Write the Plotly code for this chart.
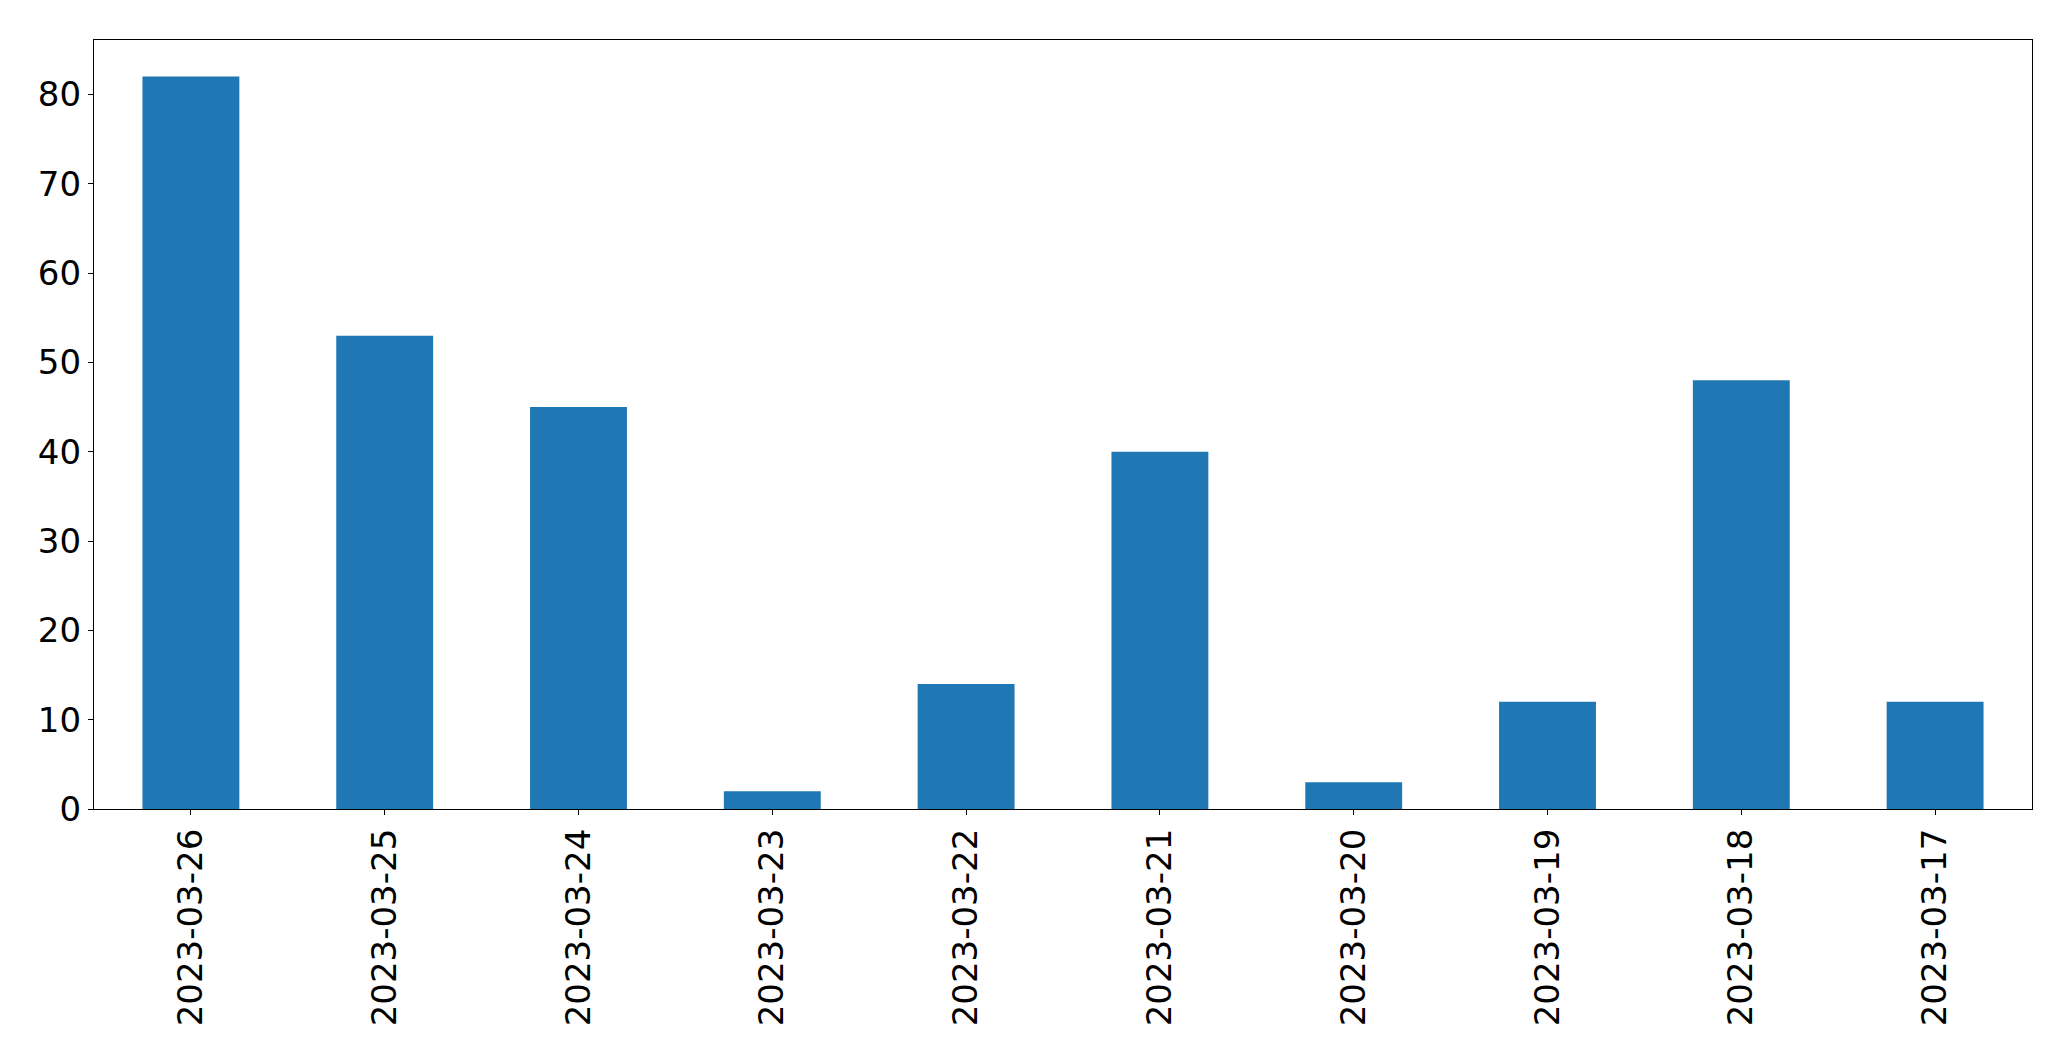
import plotly.graph_objects as go

dates = ["2023-03-26", "2023-03-25", "2023-03-24", "2023-03-23", "2023-03-22",
         "2023-03-21", "2023-03-20", "2023-03-19", "2023-03-18", "2023-03-17"]
counts = [82, 53, 45, 2, 14, 40, 3, 12, 48, 12]

fig = go.Figure(go.Bar(x=dates, y=counts, width=0.5, marker=dict(color="#1f77b4", line=dict(width=0))))

font = dict(family="DejaVu Sans", size=34, color="black")
fig.update_layout(
    width=2071, height=1061,
    margin=dict(l=94, r=39, t=40, b=252),
    plot_bgcolor="white", paper_bgcolor="white",
    showlegend=False, font=font,
)
fig.update_xaxes(type="category", range=[-0.5, 9.5], showline=True, mirror=True,
                 linecolor="black", linewidth=1.3, ticks="outside", ticklen=5,
                 tickcolor="black", tickangle=-90, showgrid=False, tickfont=font)
fig.update_yaxes(range=[0, 86.1], showline=True, mirror=True, linecolor="black",
                 linewidth=1.3, ticks="outside", ticklen=5, tickcolor="black",
                 tickvals=[0, 10, 20, 30, 40, 50, 60, 70, 80], showgrid=False,
                 zeroline=False, tickfont=font)
fig.write_html("out.html", config={"displayModeBar": False},
               post_script="document.body.style.margin='0';document.body.style.overflow='hidden';")
